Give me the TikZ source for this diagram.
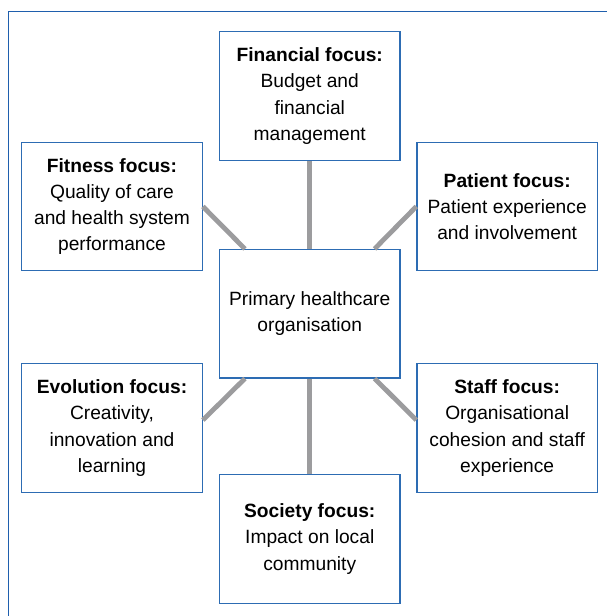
\documentclass[tikz,border=0pt]{standalone}
\usepackage{fontspec}
\setmainfont{Liberation Sans}
\usepackage{tikz}
\tikzset{>=latex}
\definecolor{frameblue}{HTML}{1F5FAD}
\definecolor{boxblue}{HTML}{2D6CB3}
\definecolor{spokegrey}{HTML}{9C9C9E}
\tikzset{focusbox/.style={draw=boxblue,line width=1.2pt,fill=white,minimum width=180.6pt,minimum height=128.4pt,inner sep=0pt,align=center,font=\fontsize{19.2pt}{26.3pt}\selectfont},
	spoke/.style={line width=4.8pt,color=spokegrey}}

\begin{document}
\begin{tikzpicture}[x=1pt,y=-1pt]
	\useasboundingbox (0,0) rectangle (606,616);
	\draw [line width=1.3pt,color=frameblue] (8.3,640) |- (640,11.3);

	\node [focusbox] (centre) at (309.75,313.7) {Primary healthcare\\organisation};
	\node [focusbox] (finance) at (309.75,95.9) {\textbf{Financial focus:}\\Budget and\\financial\\management};
	\node [focusbox] (fitness) at (112,206.5) {\textbf{Fitness focus:}\\Quality of care\\and health system\\performance};
	\node [focusbox] (patient) at (507.2,206.5) {\textbf{Patient focus:}\\Patient experience\\and involvement};
	\node [focusbox] (evolution) at (112,428) {\textbf{Evolution focus:}\\Creativity,\\innovation and\\learning};
	\node [focusbox] (staff) at (507.2,428) {\textbf{Staff focus:}\\Organisational\\cohesion and staff\\experience};
	\node [focusbox] (society) at (309.75,539) {\textbf{Society focus:}\\Impact on local\\community};

	\draw [spoke] (centre.north) -- (finance.south);
	\draw [spoke] (centre.south) -- (society.north);
	\draw [spoke] (centre.135) -- (fitness.east);
	\draw [spoke] (centre.45) -- (patient.west);
	\draw [spoke] (centre.225) -- (evolution.5);
	\draw [spoke] (centre.315) -- (staff.175);
\end{tikzpicture}
\end{document}
